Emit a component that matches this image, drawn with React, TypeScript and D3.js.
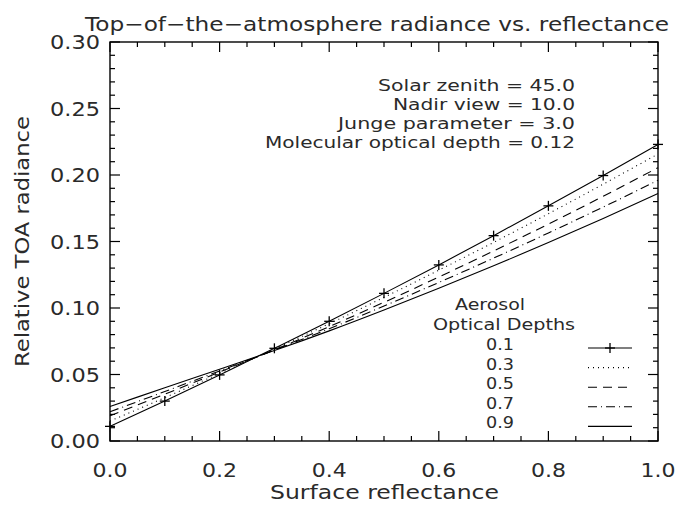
import React from "react";
import * as d3 from "d3";

// ---- data ----
const reflectance = [0, 0.1, 0.2, 0.3, 0.4, 0.5, 0.6, 0.7, 0.8, 0.9, 1.0];
const tau01 = [0.011, 0.030, 0.0497, 0.0697, 0.0900, 0.111, 0.1324, 0.1544, 0.1768, 0.1996, 0.223];
const tau03 = [0.015, 0.0326, 0.0508, 0.0692, 0.0882, 0.108, 0.1284, 0.1493, 0.1709, 0.1931, 0.2158];
const tau05 = [0.019, 0.0352, 0.0518, 0.0686, 0.0860, 0.1043, 0.1233, 0.1429, 0.1631, 0.1840, 0.2055];
const tau07 = [0.022, 0.0372, 0.0527, 0.0683, 0.0844, 0.1015, 0.1192, 0.1375, 0.1564, 0.1759, 0.1960];
const tau09 = [0.026, 0.0400, 0.0540, 0.0680, 0.0828, 0.0985, 0.1148, 0.1317, 0.1492, 0.1673, 0.1860];
const legendLabels = ["0.1", "0.3", "0.5", "0.7", "0.9"];
const xTicks = [0, 0.2, 0.4, 0.6, 0.8, 1.0];
const xTickLabels = ["0.0", "0.2", "0.4", "0.6", "0.8", "1.0"];
const yTicks = [0, 0.05, 0.1, 0.15, 0.2, 0.25, 0.3];
const yTickLabels = ["0.00", "0.05", "0.10", "0.15", "0.20", "0.25", "0.30"];
const annotations = [
  "Solar zenith = 45.0",
  "Nadir view = 10.0",
  "Junge parameter = 3.0",
  "Molecular optical depth = 0.12",
];
const titleText = "Top\u2212of\u2212the\u2212atmosphere radiance vs. reflectance";
const xTitle = "Surface reflectance";
const yTitle = "Relative TOA radiance";

// ---- layout ----
const W = 684, H = 506;
const L = 110, R = 658, T = 42, B = 441;
const FONT = "'DejaVu Sans', sans-serif";
const INK = "#2a2a2a";

const series = [tau01, tau03, tau05, tau07, tau09];
const dashes = [undefined, "1,4", "9,6", "9,4,1,4", undefined];

export default function App() {
  const x = d3.scaleLinear().domain([0, 1]).range([L, R]);
  const y = d3.scaleLinear().domain([0, 0.3]).range([B, T]);
  const line = d3
    .line<number>()
    .x((_, i) => x(reflectance[i]))
    .y((d) => y(d))
    .curve(d3.curveMonotoneX);

  const xMinor = d3.range(0, 1.0001, 0.05);
  const yMinor = d3.range(0, 0.30001, 0.01);
  const isMajorX = (v: number) => Math.abs(v / 0.2 - Math.round(v / 0.2)) < 1e-6;
  const isMajorY = (v: number) => Math.abs(v / 0.05 - Math.round(v / 0.05)) < 1e-6;

  const plus = (cx: number, cy: number, k: string | number) => (
    <g key={k} stroke="#000" strokeWidth={1.3}>
      <line x1={cx - 5} x2={cx + 5} y1={cy} y2={cy} />
      <line x1={cx} x2={cx} y1={cy - 5} y2={cy + 5} />
    </g>
  );

  const txt = { fontFamily: FONT, fill: INK } as const;
  const annoWidths = [197, 182, 237, 310];
  const legendYs = legendLabels.map((_, i) => 349 + i * 19.6);

  return (
    <svg
      width={W}
      height={H}
      style={{ position: "absolute", left: 0, top: 0, background: "#fff" }}
    >
      <rect x={0} y={0} width={W} height={H} fill="#fff" />
      {/* title */}
      <text x={85} y={31} fontSize={20} textLength={584} lengthAdjust="spacingAndGlyphs" {...txt}>
        {titleText}
      </text>

      {/* curves */}
      {series.map((s, i) => (
        <path
          key={i}
          d={line(s) || ""}
          fill="none"
          stroke="#000"
          strokeWidth={1.1}
          strokeDasharray={dashes[i]}
        />
      ))}
      {tau01.map((v, i) => plus(x(reflectance[i]), y(v), "p" + i))}

      {/* frame */}
      <rect x={L} y={T} width={R - L} height={B - T} fill="none" stroke="#000" strokeWidth={1.4} />
      {xMinor.map((v, i) => {
        const len = isMajorX(v) ? 10 : 5;
        return (
          <g key={"xt" + i} stroke="#000" strokeWidth={1.2}>
            <line x1={x(v)} x2={x(v)} y1={B} y2={B - len} />
            <line x1={x(v)} x2={x(v)} y1={T} y2={T + len} />
          </g>
        );
      })}
      {yMinor.map((v, i) => {
        const len = isMajorY(v) ? 10 : 5;
        return (
          <g key={"yt" + i} stroke="#000" strokeWidth={1.2}>
            <line x1={L} x2={L + len} y1={y(v)} y2={y(v)} />
            <line x1={R} x2={R - len} y1={y(v)} y2={y(v)} />
          </g>
        );
      })}

      {/* tick labels */}
      {xTicks.map((v, i) => (
        <text key={"xl" + i} x={x(v) - 17.5} y={477} fontSize={19} textLength={35} lengthAdjust="spacingAndGlyphs" {...txt}>
          {xTickLabels[i]}
        </text>
      ))}
      {yTicks.map((v, i) => (
        <text key={"yl" + i} x={50} y={y(v) + 7} fontSize={19} textLength={50} lengthAdjust="spacingAndGlyphs" {...txt}>
          {yTickLabels[i]}
        </text>
      ))}

      {/* axis titles */}
      <text x={270} y={499} fontSize={19} textLength={229} lengthAdjust="spacingAndGlyphs" {...txt}>
        {xTitle}
      </text>
      <text
        transform={`translate(29, ${(T + B) / 2 + 125.5}) rotate(-90)`}
        x={0}
        y={0}
        fontSize={19}
        textLength={251}
        lengthAdjust="spacingAndGlyphs"
        {...txt}
      >
        {yTitle}
      </text>

      {/* annotations */}
      {annotations.map((a, i) => (
        <text
          key={"a" + i}
          x={575 - annoWidths[i]}
          y={91 + i * 19}
          fontSize={16}
          textLength={annoWidths[i]}
          lengthAdjust="spacingAndGlyphs"
          {...txt}
        >
          {a}
        </text>
      ))}

      {/* legend */}
      <text x={455} y={310} fontSize={16} textLength={70} lengthAdjust="spacingAndGlyphs" {...txt}>
        Aerosol
      </text>
      <text x={433} y={329.5} fontSize={16} textLength={142} lengthAdjust="spacingAndGlyphs" {...txt}>
        Optical Depths
      </text>
      {legendLabels.map((lab, i) => (
        <g key={"lg" + i}>
          <text x={486} y={legendYs[i] + 1} fontSize={16} textLength={28} lengthAdjust="spacingAndGlyphs" {...txt}>
            {lab}
          </text>
          <line
            x1={588}
            x2={632}
            y1={legendYs[i] - 1}
            y2={legendYs[i] - 1}
            stroke="#000"
            strokeWidth={1.1}
            strokeDasharray={dashes[i]}
          />
          {i === 0 ? plus(610, legendYs[i] - 1, "lp") : null}
        </g>
      ))}
    </svg>
  );
}
